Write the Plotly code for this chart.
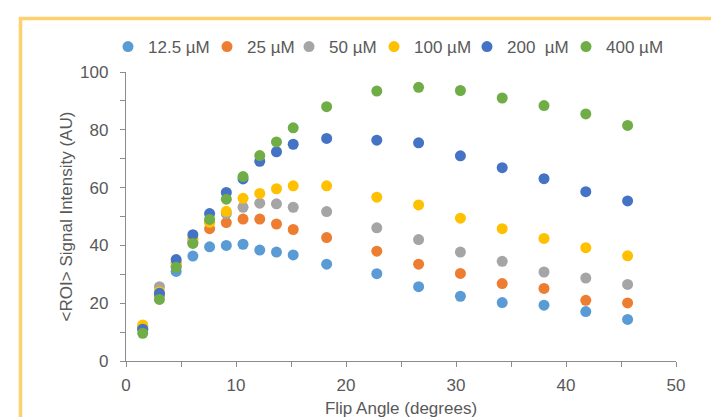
import plotly.graph_objects as go

flip_angle = [1.52, 3.04, 4.56, 6.08, 7.6, 9.12, 10.64, 12.16, 13.68, 15.2,
              18.24, 22.8, 26.6, 30.4, 34.2, 38.0, 41.8, 45.6]

series_names = ["12.5 µM", "25 µM", "50 µM", "100 µM", "200  µM", "400 µM"]

s_12_5 = [11.5, 23.0, 31.0, 36.3, 39.5, 40.0, 40.4, 38.4, 37.7, 36.7,
          33.5, 30.2, 25.7, 22.4, 20.2, 19.3, 17.1, 14.4]
s_25 = [11.0, 23.0, 33.0, 41.0, 45.8, 47.9, 49.1, 49.1, 47.4, 45.5,
        42.7, 38.0, 33.5, 30.3, 26.8, 25.1, 21.0, 20.1]
s_50 = [12.0, 25.7, 34.0, 42.0, 48.0, 51.0, 53.2, 54.6, 54.4, 53.2,
        51.7, 46.1, 42.0, 37.7, 34.5, 30.8, 28.7, 26.5]
s_100 = [12.5, 24.0, 34.0, 42.5, 48.0, 51.8, 56.3, 58.0, 59.6, 60.6,
         60.6, 56.7, 54.0, 49.4, 45.8, 42.4, 39.2, 36.4]
s_200 = [11.0, 23.4, 35.1, 43.7, 51.0, 58.3, 63.0, 69.1, 72.4, 75.0,
         77.0, 76.4, 75.5, 71.0, 66.9, 63.1, 58.6, 55.4]
s_400 = [9.6, 21.3, 32.4, 40.7, 49.0, 56.0, 63.8, 71.1, 75.8, 80.7,
         88.0, 93.4, 94.7, 93.6, 91.0, 88.4, 85.5, 81.5]

series_values = [s_12_5, s_25, s_50, s_100, s_200, s_400]
colors = ["#5B9BD5", "#ED7D31", "#A5A5A5", "#FFC000", "#4472C4", "#70AD47"]

x_ticks = [0, 10, 20, 30, 40, 50]
y_ticks = [0, 20, 40, 60, 80, 100]

FONT = "Liberation Sans, Arial, sans-serif"
TXT = "#595959"
AX = "#8C8C8C"

W, H = 719, 417
L, R, T, B = 118, 51, 64, 64
pw, ph = W - L - R, H - T - B

# legend entry left edges (px) so that each legend marker sits where the reference has it
legend_left_px = [100, 199, 281, 366, 459, 558]

fig = go.Figure()
legend_ids = ["legend", "legend2", "legend3", "legend4", "legend5", "legend6"]
for name, vals, col, lid in zip(series_names, series_values, colors, legend_ids):
    fig.add_trace(go.Scatter(
        x=flip_angle, y=vals, mode="markers", name=name, legend=lid,
        marker=dict(color=col, size=11, line=dict(width=0)),
    ))


def px_x(px):
    return (px - L) / pw


def px_y(py):
    return (H - B - py) / ph


# orange frame around the chart
fig.add_shape(type="rect", xref="paper", yref="paper",
              x0=px_x(12.5), x1=px_x(715.5), y0=px_y(430), y1=px_y(10.5),
              line=dict(color="#FFD06E", width=3.5), fillcolor="rgba(0,0,0,0)")

legend_layout = {}
for lid, lx in zip(legend_ids, legend_left_px):
    legend_layout[lid] = dict(
        orientation="h", xref="container", yref="container",
        x=lx / W, xanchor="left", y=1 - 39 / H, yanchor="middle",
        font=dict(size=17, color=TXT), itemwidth=30,
        bgcolor="rgba(0,0,0,0)")

fig.update_layout(
    width=W, height=H,
    margin=dict(l=L, r=R, t=T, b=B, autoexpand=False),
    paper_bgcolor="white", plot_bgcolor="white",
    font=dict(family=FONT, size=17, color=TXT),
    showlegend=True,
    **legend_layout,
    xaxis=dict(range=[0, 50], tickvals=x_ticks, showgrid=False, zeroline=False,
               showline=True, linecolor=AX, linewidth=1.3,
               ticks="outside", ticklen=5, tickcolor=AX, ticklabelstandoff=3,
               minor=dict(dtick=5, ticks="outside", ticklen=5, tickcolor=AX),
               tickfont=dict(size=17, color=TXT),
               title=dict(text="Flip Angle (degrees)", font=dict(size=17, color=TXT), standoff=8)),
    yaxis=dict(range=[0, 100], tickvals=y_ticks, showgrid=False, zeroline=False,
               showline=True, linecolor=AX, linewidth=1.3,
               ticks="outside", ticklen=5, tickcolor=AX, ticklabelstandoff=8,
               minor=dict(dtick=10, ticks="outside", ticklen=5, tickcolor=AX),
               tickfont=dict(size=17, color=TXT),
               title=dict(text="&lt;ROI&gt; Signal Intensity (AU)", font=dict(size=17, color=TXT), standoff=3)),
)

fig.write_html("out.html")
